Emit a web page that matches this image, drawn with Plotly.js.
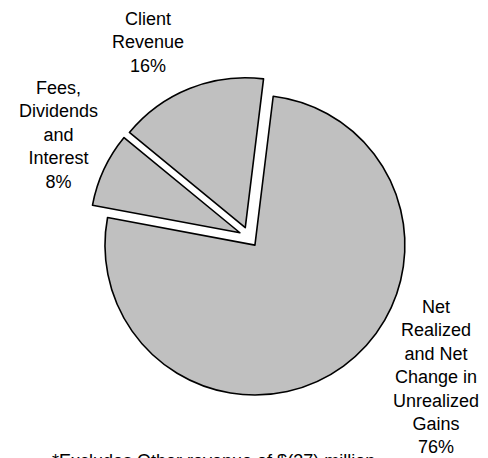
<!DOCTYPE html>
<html>
<head>
<meta charset="utf-8">
<script src="https://cdn.plot.ly/plotly-3.0.1.min.js"></script>
<style>html,body{margin:0;padding:0;background:#fff;}#chart{width:488px;height:458px;}</style>
</head>
<body>
<div id="chart"></div>
<script>
// Data
var categories = ["Net Realized and Net Change in Unrealized Gains", "Fees, Dividends and Interest", "Client Revenue"];
var labelLines = ["Net<br>Realized<br>and Net<br>Change in<br>Unrealized<br>Gains", "Fees,<br>Dividends<br>and<br>Interest", "Client<br>Revenue"];
var values = [76, 8, 16];
var footnote = "*Excludes Other revenue of $(37) million";

// Layout positions for outside labels (paper coords)
var labelPos = [[0.8934, 0.1758], [0.1209, 0.7052], [0.3033, 0.9072]];

var total = values.reduce(function(a, b){ return a + b; }, 0);
var annotations = categories.map(function(c, i){
  return {
    xref: 'paper', yref: 'paper', x: labelPos[i][0], y: labelPos[i][1],
    xanchor: 'center', yanchor: 'middle', showarrow: false, align: 'center',
    text: labelLines[i] + '<br>' + Math.round(values[i] / total * 100) + '%',
    font: {family: 'Liberation Sans, Arial, sans-serif', size: 18, color: '#000'}
  };
});
annotations.push({
  xref: 'paper', yref: 'paper', x: 213 / 488, y: -0.006,
  xanchor: 'center', yanchor: 'middle', showarrow: false,
  text: footnote,
  font: {family: 'Liberation Sans, Arial, sans-serif', size: 18, color: '#000'}
});

var trace = {
  type: 'pie',
  labels: categories,
  values: values,
  sort: false,
  direction: 'clockwise',
  rotation: 7,
  pull: values.map(function(){ return 0.067; }),
  textinfo: 'none',
  hoverinfo: 'none',
  marker: {colors: values.map(function(){ return '#c0c0c0'; }), line: {color: '#000', width: 1.6}},
  domain: {x: [0.1824, 0.8381], y: [0.1332, 0.8319]}
};

var layout = {
  width: 488, height: 458,
  margin: {l: 0, r: 0, t: 0, b: 0},
  paper_bgcolor: '#fff', plot_bgcolor: '#fff',
  showlegend: false,
  annotations: annotations,
  font: {family: 'Liberation Sans, Arial, sans-serif', size: 18, color: '#000'}
};

Plotly.newPlot('chart', [trace], layout, {staticPlot: true, displayModeBar: false});
</script>
</body>
</html>
